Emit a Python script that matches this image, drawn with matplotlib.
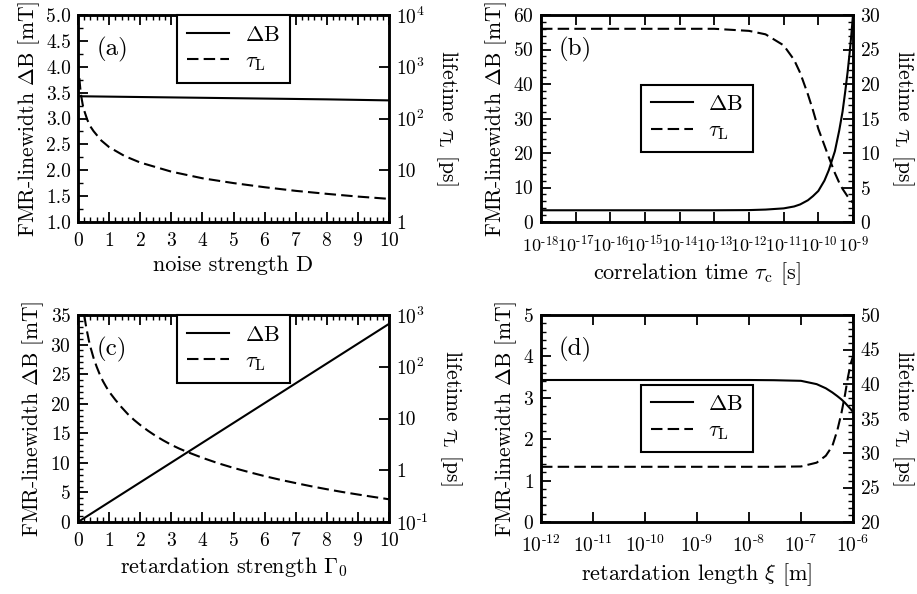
import numpy as np
import matplotlib
matplotlib.use("Agg")
import matplotlib.pyplot as plt
from matplotlib.ticker import MultipleLocator, FixedLocator, FixedFormatter, NullLocator, FormatStrFormatter

plt.rcParams["font.family"] = "serif"
plt.rcParams["font.serif"] = ["cmr10"]
plt.rcParams["mathtext.fontset"] = "cm"
plt.rcParams["axes.formatter.use_mathtext"] = True
plt.rcParams["axes.unicode_minus"] = False

# (a) noise strength D
a_D_dB = [0, 2, 4, 6, 8, 10]
a_dB = [3.43, 3.415, 3.40, 3.385, 3.37, 3.35]
a_D_tau = [0.045, 0.06, 0.08, 0.1, 0.15, 0.2, 0.3, 0.4, 0.5, 0.75, 1, 1.5, 2, 3, 4, 5, 6, 7, 8, 9, 10]
a_tau = [600, 460, 350, 280, 187, 142, 94, 70, 57, 37.5, 28, 18.8, 14.1, 9.4, 7.0, 5.65, 4.7, 4.0, 3.5, 3.1, 2.8]
a_tau_ticks = [1, 10, 100, 1000, 10000]
a_tau_labels = ["1", "10", r"$10^2$", r"$10^3$", r"$10^4$"]

# (b) correlation time tau_c
b_tc = [1e-18, 1e-16, 1e-14, 1e-13, 1e-12, 3e-12, 1e-11, 2e-11, 3e-11, 5e-11, 7e-11, 1e-10,
        1.5e-10, 2e-10, 3e-10, 4e-10, 5e-10, 6e-10, 7e-10, 8e-10, 9e-10, 1e-9]
b_dB = [3.4, 3.4, 3.4, 3.4, 3.45, 3.6, 3.95, 4.5, 5.1, 6.3, 7.5, 9.0,
        12.0, 15.0, 20.5, 26.5, 32.0, 38.0, 43.5, 49.0, 54.5, 60.0]
b_tau = [28.0, 28.0, 28.0, 28.0, 27.7, 27.2, 25.6, 23.5, 21.6, 18.5, 16.2, 13.5,
         11.1, 9.4, 7.1, 5.7, 4.8, 4.2, 3.7, 3.3, 3.0, 2.8]
b_exp = [-18, -17, -16, -15, -14, -13, -12, -11, -10, -9]

# (c) retardation strength Gamma_0
c_G_dB = [0, 5, 10]
c_dB = [0.0, 16.75, 33.5]
c_G_tau = [0.2, 0.25, 0.3, 0.35, 0.4, 0.5, 0.6, 0.7, 0.8, 0.9, 1.0, 1.2, 1.4, 1.6, 1.8, 2.0,
           2.25, 2.5, 2.75, 3.0, 3.25, 3.5, 4.0, 4.5, 5.0, 5.5, 6.0, 6.5, 7.0, 7.5, 8.0, 8.5,
           9.0, 9.5, 10.0]
c_tau = [1000, 650, 450, 320, 240, 148, 100, 71, 53, 41.5, 33, 23, 16.5, 12.2, 9.4, 7.5,
         5.8, 4.6, 3.75, 3.1, 2.63, 2.27, 1.74, 1.37, 1.11, 0.92, 0.77, 0.655, 0.565, 0.49, 0.43, 0.38,
         0.34, 0.305, 0.275]
c_tau_ticks = [0.1, 1, 10, 100, 1000]
c_tau_labels = [r"$10^{\text{-}1}$", "1", "10", r"$10^2$", r"$10^3$"]

# (d) retardation length xi
d_xi = [1e-12, 1e-10, 1e-8, 3e-8, 1e-7, 2e-7, 3e-7, 4e-7, 5e-7, 6e-7, 7e-7, 8e-7, 9e-7, 1e-6]
d_dB = [3.43, 3.43, 3.43, 3.425, 3.41, 3.33, 3.23, 3.13, 3.04, 2.96, 2.88, 2.80, 2.73, 2.66]
d_tau = [28.0, 28.0, 28.0, 28.0, 28.05, 28.6, 29.6, 31.0, 33.3, 35.8, 38.4, 41.0, 42.9, 44.0]
d_exp = [-12, -11, -10, -9, -8, -7, -6]

fig = plt.figure(figsize=(9.17, 5.94), dpi=100)

def make_axes(pos):
    ax = fig.add_axes(pos)
    tw = ax.twinx()
    for a in (ax, tw):
        for s in a.spines.values():
            s.set_linewidth(1.8)
    ax.tick_params(which="both", direction="in", top=True, right=False, labelsize=14, pad=5)
    ax.tick_params(axis="x", pad=7)
    ax.tick_params(which="major", length=7, width=1.3)
    ax.tick_params(which="minor", length=3.5, width=1.0)
    tw.tick_params(which="both", direction="in", labelsize=14, pad=5)
    tw.tick_params(which="major", length=7, width=1.3)
    tw.tick_params(which="minor", length=3.5, width=1.0)
    ax.set_ylabel(r"FMR-linewidth $\Delta$B [mT]", fontsize=15.5, labelpad=3)
    tw.set_ylabel(r"lifetime $\tau_\mathrm{L}$ [ps]", fontsize=15.5, rotation=-90, labelpad=25)
    return ax, tw

def finish(ax, tw, l1, l2, label, legpos):
    leg = tw.legend([l1, l2], [r"$\Delta$B", r"$\tau_\mathrm{L}$"], fontsize=16, fancybox=False,
                    edgecolor="black", framealpha=1, handlelength=1.9, handletextpad=0.7,
                    borderpad=0.45, labelspacing=0.3, borderaxespad=0, **legpos)
    leg.get_frame().set_linewidth(1.5)
    ax.text(0.11, 0.835, label, transform=ax.transAxes, fontsize=18, ha="center", va="center")

def log_ticks(ax, exps, size):
    ax.xaxis.set_major_locator(FixedLocator([10.0 ** e for e in exps]))
    ax.xaxis.set_major_formatter(FixedFormatter([r"$10^{\text{%d}}$" % e for e in exps]))
    ax.xaxis.set_minor_locator(NullLocator())
    ax.tick_params(axis="x", pad=9, labelsize=size)

dash = (5.5, 2.5)
W, H = 311 / 917, 207 / 594
top_legend = dict(loc="upper center", bbox_to_anchor=(0.5, 1.0))
mid_legend = dict(loc="center", bbox_to_anchor=(0.5, 0.5))

# (a)
ax, tw = make_axes([78 / 917, (594 - 222) / 594, W, H])
l1, = ax.plot(a_D_dB, a_dB, color="black", lw=1.5)
l2, = tw.plot(a_D_tau, a_tau, color="black", lw=1.5, dashes=dash)
ax.set_xlim(0, 10)
ax.set_ylim(1, 5)
ax.xaxis.set_major_locator(MultipleLocator(1))
ax.xaxis.set_minor_locator(MultipleLocator(0.2))
ax.yaxis.set_major_locator(MultipleLocator(0.5))
ax.yaxis.set_minor_locator(MultipleLocator(0.25))
ax.yaxis.set_major_formatter(FormatStrFormatter("%.1f"))
tw.set_yscale("log")
tw.set_ylim(1, 1e4)
tw.yaxis.set_major_locator(FixedLocator(a_tau_ticks))
tw.yaxis.set_major_formatter(FixedFormatter(a_tau_labels))
tw.yaxis.set_minor_locator(NullLocator())
ax.set_xlabel("noise strength D", fontsize=16)
finish(ax, tw, l1, l2, "(a)", top_legend)

# (b)
ax, tw = make_axes([541 / 917, (594 - 222) / 594, 312 / 917, H])
l1, = ax.plot(b_tc, b_dB, color="black", lw=1.5)
l2, = tw.plot(b_tc, b_tau, color="black", lw=1.5, dashes=dash)
ax.set_xscale("log")
ax.set_xlim(1e-18, 1e-9)
ax.set_ylim(0, 60)
log_ticks(ax, b_exp, 13)
ax.yaxis.set_major_locator(MultipleLocator(10))
ax.yaxis.set_minor_locator(MultipleLocator(2))
tw.set_ylim(0, 30)
tw.yaxis.set_major_locator(MultipleLocator(5))
tw.yaxis.set_minor_locator(MultipleLocator(1))
ax.set_xlabel(r"correlation time $\tau_\mathrm{c}$ [s]", fontsize=16)
finish(ax, tw, l1, l2, "(b)", mid_legend)

# (c)
ax, tw = make_axes([78 / 917, (594 - 522) / 594, W, H])
l1, = ax.plot(c_G_dB, c_dB, color="black", lw=1.5)
l2, = tw.plot(c_G_tau, c_tau, color="black", lw=1.5, dashes=dash)
ax.set_xlim(0, 10)
ax.set_ylim(0, 35)
ax.xaxis.set_major_locator(MultipleLocator(1))
ax.xaxis.set_minor_locator(MultipleLocator(0.2))
ax.yaxis.set_major_locator(MultipleLocator(5))
ax.yaxis.set_minor_locator(MultipleLocator(1))
tw.set_yscale("log")
tw.set_ylim(0.1, 1e3)
tw.yaxis.set_major_locator(FixedLocator(c_tau_ticks))
tw.yaxis.set_major_formatter(FixedFormatter(c_tau_labels))
tw.yaxis.set_minor_locator(NullLocator())
ax.set_xlabel(r"retardation strength $\Gamma_0$", fontsize=16)
finish(ax, tw, l1, l2, "(c)", top_legend)

# (d)
ax, tw = make_axes([541 / 917, (594 - 522) / 594, 312 / 917, H])
l1, = ax.plot(d_xi, d_dB, color="black", lw=1.5)
l2, = tw.plot(d_xi, d_tau, color="black", lw=1.5, dashes=dash)
ax.set_xscale("log")
ax.set_xlim(1e-12, 1e-6)
ax.set_ylim(0, 5)
log_ticks(ax, d_exp, 14)
ax.yaxis.set_major_locator(MultipleLocator(1))
ax.yaxis.set_minor_locator(MultipleLocator(0.2))
tw.set_ylim(20, 50)
tw.yaxis.set_major_locator(MultipleLocator(5))
tw.yaxis.set_minor_locator(MultipleLocator(1))
ax.set_xlabel(r"retardation length $\xi$ [m]", fontsize=16)
finish(ax, tw, l1, l2, "(d)", mid_legend)

fig.savefig("out.png", dpi=100)
